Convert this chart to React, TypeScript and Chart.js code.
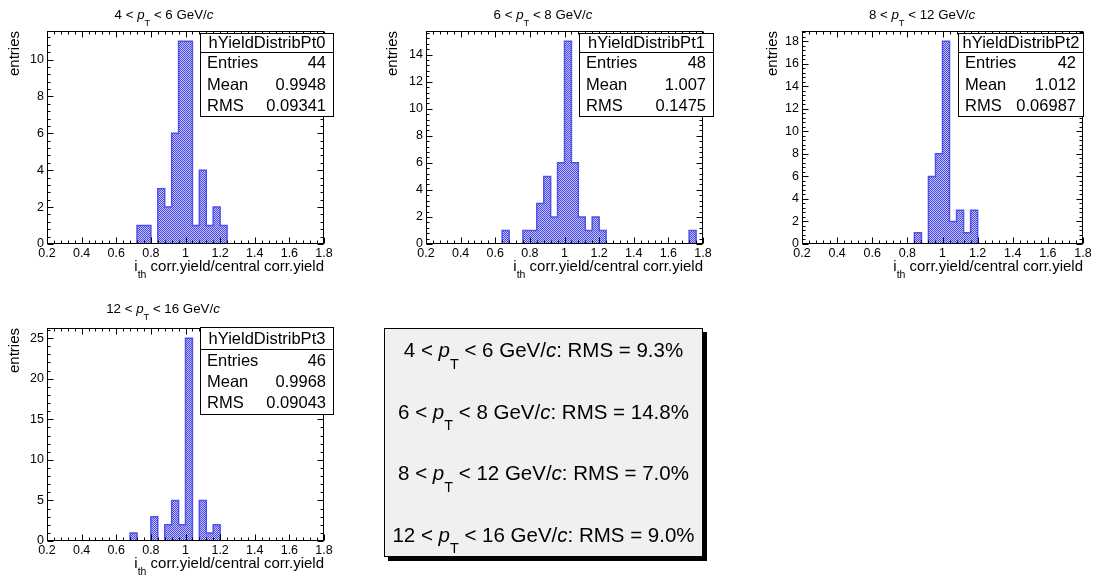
import React, { useEffect, useRef } from "react";
import { Chart, registerables } from "chart.js";

Chart.register(...registerables);

// ---------------- data ----------------
const X_MIN = 0.2;
const X_MAX = 1.8;
const BIN_WIDTH = 0.04;
const X_TICK_STEP = 0.2;

const PT_LOW = [4, 6, 8, 12];
const PT_HIGH = [6, 8, 12, 16];
const HIST_NAMES = ["hYieldDistribPt0", "hYieldDistribPt1", "hYieldDistribPt2", "hYieldDistribPt3"];

// 40 bins of width 0.04 from 0.2 to 1.8
const COUNTS_PT0 = [
  0, 0, 0, 0, 0, 0, 0, 0, 0, 0,
  0, 0, 0, 1, 1, 0, 3, 2, 6, 11,
  11, 1, 4, 1, 2, 1, 0, 0, 0, 0,
  0, 0, 0, 0, 0, 0, 0, 0, 0, 0,
];
const COUNTS_PT1 = [
  0, 0, 0, 0, 0, 0, 0, 0, 0, 0,
  0, 1, 0, 0, 1, 1, 3, 5, 2, 6,
  15, 6, 2, 1, 2, 1, 0, 0, 0, 0,
  0, 0, 0, 0, 0, 0, 0, 0, 1, 0,
];
const COUNTS_PT2 = [
  0, 0, 0, 0, 0, 0, 0, 0, 0, 0,
  0, 0, 0, 0, 0, 0, 1, 0, 6, 8,
  18, 2, 3, 1, 3, 0, 0, 0, 0, 0,
  0, 0, 0, 0, 0, 0, 0, 0, 0, 0,
];
const COUNTS_PT3 = [
  0, 0, 0, 0, 0, 0, 0, 0, 0, 0,
  0, 0, 1, 0, 0, 3, 0, 2, 5, 2,
  25, 0, 5, 1, 2, 0, 0, 0, 0, 0,
  0, 0, 0, 0, 0, 0, 0, 0, 0, 0,
];
const COUNTS = [COUNTS_PT0, COUNTS_PT1, COUNTS_PT2, COUNTS_PT3];

const ENTRIES = ["44", "48", "42", "46"];
const MEANS = ["0.9948", "1.007", "1.012", "0.9968"];
const RMS_VALUES = ["0.09341", "0.1475", "0.06987", "0.09043"];
const RMS_PERCENT = ["9.3%", "14.8%", "7.0%", "9.0%"];

const Y_MAX = [11.55, 15.75, 18.9, 26.25];
const Y_TICK_STEP = [2, 2, 2, 5];

const Y_TITLE = "entries";

// ---------------- layout / style ----------------
const W = 1100;
const H = 581;
const Y_AXIS_W = 40;
const X_AXIS_H = 30;
const X_MINOR_STEP = 0.04;
const FONT = '"Liberation Sans", Arial, Helvetica, sans-serif';
const TICK_FONT_SIZE = 12.5;
const TITLE_FONT_SIZE = 13.3;
const AXIS_TITLE_SIZE = 15;
const STATS_FONT_SIZE = 16.5;
const SUMMARY_FONT_SIZE = 20.5;

type Box = { l: number; r: number; t: number; b: number };
type PanelLayout = {
  frame: Box;
  stats: Box & { sep: number; rows: number[] };
  titleX: number;
  titleY: number;
  yTitleX: number;
  xTitleY: number;
};

const PANELS: PanelLayout[] = [
  {
    frame: { l: 47, r: 324, t: 31, b: 244 },
    stats: { l: 200, r: 334, t: 33, b: 117, sep: 52, rows: [43, 63, 85, 106] },
    titleX: 164, titleY: 19, yTitleX: 15, xTitleY: 271,
  },
  {
    frame: { l: 426, r: 703, t: 31, b: 244 },
    stats: { l: 579, r: 714, t: 33, b: 117, sep: 52, rows: [43, 63, 85, 106] },
    titleX: 543, titleY: 19, yTitleX: 393, xTitleY: 271,
  },
  {
    frame: { l: 802, r: 1083, t: 31, b: 244 },
    stats: { l: 958, r: 1084, t: 33, b: 117, sep: 52, rows: [43, 63, 85, 106] },
    titleX: 922, titleY: 19, yTitleX: 773, xTitleY: 271,
  },
  {
    frame: { l: 47, r: 324, t: 328, b: 541 },
    stats: { l: 200, r: 334, t: 327, b: 415, sep: 349, rows: [339, 361, 382, 403] },
    titleX: 163, titleY: 313, yTitleX: 15, xTitleY: 568,
  },
];

const SUMMARY_BOX: Box = { l: 384, r: 703, t: 328, b: 557 };
const SUMMARY_BASELINES = [357, 418.5, 480, 541.5];

// ---------------- rich text helpers ----------------
type Seg = { t: string; it?: boolean; sub?: boolean };

function segFont(s: Seg, size: number) {
  const sz = s.sub ? size * 0.7 : size;
  return `${s.it ? "italic " : ""}${sz}px ${FONT}`;
}

function richWidth(ctx: CanvasRenderingContext2D, segs: Seg[], size: number) {
  let w = 0;
  for (const s of segs) {
    ctx.font = segFont(s, size);
    w += ctx.measureText(s.t).width;
  }
  return w;
}

function drawRich(
  ctx: CanvasRenderingContext2D,
  segs: Seg[],
  x: number,
  y: number,
  size: number,
  align: "left" | "center" | "right",
  subDrop = 0.5
) {
  const w = richWidth(ctx, segs, size);
  let cx = align === "left" ? x : align === "center" ? x - w / 2 : x - w;
  ctx.textAlign = "left";
  ctx.textBaseline = "alphabetic";
  for (const s of segs) {
    ctx.font = segFont(s, size);
    ctx.fillText(s.t, cx, y + (s.sub ? size * subDrop : 0));
    cx += ctx.measureText(s.t).width;
  }
}

function ptSegs(i: number): Seg[] {
  return [
    { t: `${PT_LOW[i]} < ` },
    { t: "p", it: true },
    { t: "T", sub: true },
    { t: ` < ${PT_HIGH[i]} GeV/` },
    { t: "c", it: true },
  ];
}

const X_TITLE_SEGS: Seg[] = [
  { t: "i" },
  { t: "th", sub: true },
  { t: " corr.yield/central corr.yield" },
];

function makeDecor(i: number) {
  return {
    id: "rootDecor" + i,
    afterDraw(chart: any) {
      const ctx: CanvasRenderingContext2D = chart.ctx;
      const p = PANELS[i];
      const { left, right, top, bottom } = chart.chartArea;
      const xs = chart.scales.x;
      const ys = chart.scales.y;
      ctx.save();
      ctx.strokeStyle = "#000";
      ctx.fillStyle = "#000";
      ctx.lineWidth = 1;

      // frame
      const L = Math.round(left) + 0.5;
      const R = Math.round(right) - 0.5;
      const T = Math.round(top) + 0.5;
      const B = Math.round(bottom) - 0.5;
      ctx.strokeRect(L, T, R - L, B - T);

      // x ticks (bottom + top, inward)
      ctx.beginPath();
      const nx = Math.round((X_MAX - X_MIN) / X_MINOR_STEP);
      const perMajorX = Math.round(X_TICK_STEP / X_MINOR_STEP);
      for (let k = 0; k <= nx; k++) {
        const v = X_MIN + k * X_MINOR_STEP;
        const px = Math.round(xs.getPixelForValue(v)) + 0.5;
        const len = k % perMajorX === 0 ? 6 : 3;
        ctx.moveTo(px, B);
        ctx.lineTo(px, B - len);
        ctx.moveTo(px, T);
        ctx.lineTo(px, T + len);
      }
      // y ticks (left + right, inward)
      const step = Y_TICK_STEP[i];
      const minor = step / 5;
      const ny = Math.floor(Y_MAX[i] / minor + 1e-9);
      for (let k = 0; k <= ny; k++) {
        const v = k * minor;
        const py = Math.round(ys.getPixelForValue(v)) + 0.5;
        const len = k % 5 === 0 ? 6 : 3;
        ctx.moveTo(L, py);
        ctx.lineTo(L + len, py);
        ctx.moveTo(R, py);
        ctx.lineTo(R - len, py);
      }
      ctx.stroke();

      // title
      drawRich(ctx, ptSegs(i), p.titleX, p.titleY, TITLE_FONT_SIZE, "center", 0.5);

      // x title
      drawRich(ctx, X_TITLE_SEGS, p.frame.r, p.xTitleY, AXIS_TITLE_SIZE, "right", 0.47);

      // y title
      ctx.save();
      ctx.translate(p.yTitleX, p.frame.t);
      ctx.rotate(-Math.PI / 2);
      ctx.font = `${AXIS_TITLE_SIZE}px ${FONT}`;
      ctx.textAlign = "right";
      ctx.textBaseline = "middle";
      ctx.fillText(Y_TITLE, 0, 0);
      ctx.restore();

      // stats box
      const s = p.stats;
      ctx.fillStyle = "#fff";
      ctx.fillRect(s.l, s.t, s.r - s.l, s.b - s.t);
      ctx.strokeStyle = "#000";
      ctx.strokeRect(s.l + 0.5, s.t + 0.5, s.r - s.l - 1, s.b - s.t - 1);
      ctx.beginPath();
      ctx.moveTo(s.l, s.sep + 0.5);
      ctx.lineTo(s.r, s.sep + 0.5);
      ctx.stroke();
      ctx.fillStyle = "#000";
      ctx.font = `${STATS_FONT_SIZE}px ${FONT}`;
      ctx.textBaseline = "middle";
      ctx.textAlign = "center";
      ctx.fillText(HIST_NAMES[i], (s.l + s.r) / 2, s.rows[0]);
      const labels = ["Entries", "Mean", "RMS"];
      const vals = [ENTRIES[i], MEANS[i], RMS_VALUES[i]];
      for (let k = 0; k < 3; k++) {
        ctx.textAlign = "left";
        ctx.fillText(labels[k], s.l + 7, s.rows[k + 1]);
        ctx.textAlign = "right";
        ctx.fillText(vals[k], s.r - 8, s.rows[k + 1]);
      }

      // summary box (drawn with the last panel)
      if (i === 3) {
        const b = SUMMARY_BOX;
        ctx.fillStyle = "#000";
        ctx.fillRect(b.l + 4, b.t + 4, b.r - b.l, b.b - b.t);
        ctx.fillStyle = "#f0f0f0";
        ctx.fillRect(b.l, b.t, b.r - b.l, b.b - b.t);
        ctx.strokeStyle = "#000";
        ctx.strokeRect(b.l + 0.5, b.t + 0.5, b.r - b.l - 1, b.b - b.t - 1);
        ctx.fillStyle = "#000";
        for (let k = 0; k < 4; k++) {
          const segs = [...ptSegs(k), { t: `: RMS = ${RMS_PERCENT[k]}` }];
          drawRich(ctx, segs, (b.l + b.r) / 2, SUMMARY_BASELINES[k], SUMMARY_FONT_SIZE, "center", 0.57);
        }
      }
      ctx.restore();
    },
  };
}

function makePattern(ctx: CanvasRenderingContext2D) {
  const pc = document.createElement("canvas");
  pc.width = 2;
  pc.height = 2;
  const pctx = pc.getContext("2d")!;
  pctx.fillStyle = "#c6c6ff";
  pctx.fillRect(0, 0, 2, 2);
  pctx.fillStyle = "#4646ee";
  pctx.fillRect(0, 0, 1, 1);
  pctx.fillRect(1, 1, 1, 1);
  return ctx.createPattern(pc, "repeat")!;
}

export default function App() {
  const r0 = useRef<HTMLCanvasElement>(null);
  const r1 = useRef<HTMLCanvasElement>(null);
  const r2 = useRef<HTMLCanvasElement>(null);
  const r3 = useRef<HTMLCanvasElement>(null);

  useEffect(() => {
    const refs = [r0, r1, r2, r3];
    const charts = PANELS.map((p, i) => {
      const canvas = refs[i].current!;
      const ctx = canvas.getContext("2d")!;
      const counts = COUNTS[i];
      const nb = counts.length;
      const points: { x: number; y: number }[] = [];
      for (let k = 0; k <= nb; k++) {
        points.push({ x: X_MIN + k * BIN_WIDTH, y: counts[Math.min(k, nb - 1)] });
      }
      const step = Y_TICK_STEP[i];
      const yMax = Y_MAX[i];
      const f = p.frame;
      return new Chart(canvas, {
        type: "line",
        data: {
          datasets: [
            {
              data: points,
              stepped: "before",
              fill: "origin",
              backgroundColor: makePattern(ctx),
              borderColor: "#5252e6",
              borderWidth: 1.5,
              pointRadius: 0,
              tension: 0,
            } as any,
          ],
        },
        options: {
          responsive: false,
          animation: false,
          devicePixelRatio: 1,
          events: [],
          layout: {
            padding: {
              left: f.l - Y_AXIS_W,
              right: W - f.r,
              top: f.t,
              bottom: H - f.b - X_AXIS_H,
            },
          },
          plugins: {
            legend: { display: false },
            tooltip: { enabled: false },
            title: { display: false },
          },
          scales: {
            x: {
              type: "linear",
              min: X_MIN,
              max: X_MAX,
              grid: { display: false, drawTicks: false },
              border: { display: false },
              ticks: {
                stepSize: X_TICK_STEP,
                autoSkip: false,
                maxRotation: 0,
                padding: 2,
                color: "#000",
                font: { family: FONT, size: TICK_FONT_SIZE },
                callback: (v: any) => String(Math.round(Number(v) * 10) / 10),
              },
              afterFit: (s: any) => {
                s.height = X_AXIS_H;
              },
            },
            y: {
              type: "linear",
              min: 0,
              max: yMax,
              grid: { display: false, drawTicks: false },
              border: { display: false },
              ticks: {
                stepSize: step,
                autoSkip: false,
                padding: 3,
                color: "#000",
                font: { family: FONT, size: TICK_FONT_SIZE },
                callback: (v: any) => String(Math.round(Number(v))),
              },
              afterBuildTicks: (s: any) => {
                const ticks: { value: number }[] = [];
                for (let k = 0; k * step <= yMax + 1e-9; k++) ticks.push({ value: k * step });
                s.ticks = ticks;
              },
              afterFit: (s: any) => {
                s.width = Y_AXIS_W;
              },
            },
          },
        } as any,
        plugins: [makeDecor(i)],
      });
    });
    return () => charts.forEach((c) => c.destroy());
  }, []);

  const style: React.CSSProperties = { position: "absolute", left: 0, top: 0 };
  return (
    <div style={{ position: "absolute", left: 0, top: 0, width: W, height: H, background: "#fff" }}>
      <canvas ref={r0} width={W} height={H} style={style} />
      <canvas ref={r1} width={W} height={H} style={style} />
      <canvas ref={r2} width={W} height={H} style={style} />
      <canvas ref={r3} width={W} height={H} style={style} />
    </div>
  );
}
